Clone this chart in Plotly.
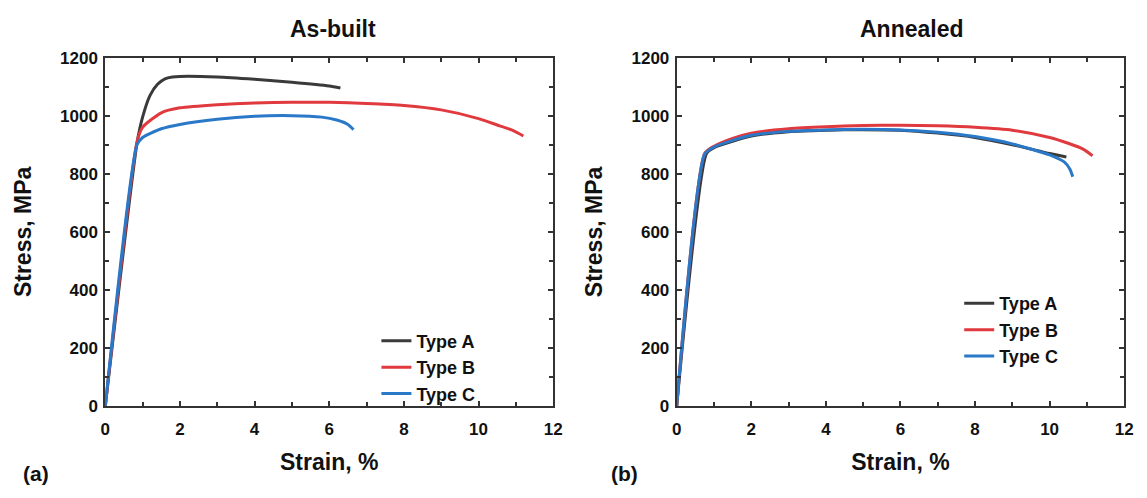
import plotly.graph_objects as go

# ---- data (strain %, stress MPa) ----
series_names = ["Type A", "Type B", "Type C"]
colors = ["#3a3a3a", "#e0393e", "#2a78c8"]

asbuilt_A_x = [0, 0.85, 1.0, 1.2, 1.4, 1.6, 1.8, 2.0, 3.0, 4.0, 5.0, 6.0, 6.3]
asbuilt_A_y = [0, 905, 995, 1070, 1108, 1127, 1133, 1135, 1133, 1125, 1115, 1102, 1095]
asbuilt_B_x = [0, 0.85, 1.0, 1.5, 2.0, 3.0, 4.0, 5.0, 6.0, 7.0, 8.0, 9.0, 10.0, 10.5, 10.9, 11.2]
asbuilt_B_y = [0, 910, 960, 1010, 1027, 1038, 1044, 1046, 1046, 1042, 1035, 1020, 990, 968, 950, 930]
asbuilt_C_x = [0, 0.85, 1.0, 1.5, 2.0, 3.0, 4.0, 5.0, 5.8, 6.2, 6.5, 6.65]
asbuilt_C_y = [0, 900, 925, 955, 970, 988, 998, 1000, 995, 985, 970, 952]

ann_A_x = [0, 0.8, 1.0, 1.5, 2.0, 3.0, 4.0, 5.0, 6.0, 7.0, 8.0, 9.0, 10.0, 10.45]
ann_A_y = [0, 870, 890, 912, 930, 945, 950, 952, 950, 940, 925, 900, 870, 858]
ann_B_x = [0, 0.75, 1.0, 1.5, 2.0, 3.0, 4.0, 5.0, 6.0, 7.0, 8.0, 9.0, 10.0, 10.5, 10.9, 11.15]
ann_B_y = [0, 870, 895, 922, 940, 955, 962, 966, 967, 965, 960, 950, 925, 905, 885, 862]
ann_C_x = [0, 0.75, 1.0, 1.5, 2.0, 3.0, 4.0, 5.0, 6.0, 7.0, 8.0, 9.0, 10.0, 10.4, 10.55, 10.62]
ann_C_y = [0, 868, 892, 915, 933, 946, 951, 953, 951, 943, 928, 903, 865, 840, 815, 790]

x_ticks = [0, 2, 4, 6, 8, 10, 12]
y_ticks = [0, 200, 400, 600, 800, 1000, 1200]

FONT = "Liberation Sans"
INK = "#111"

fig = go.Figure()

asbuilt = [(asbuilt_A_x, asbuilt_A_y), (asbuilt_B_x, asbuilt_B_y), (asbuilt_C_x, asbuilt_C_y)]
annealed = [(ann_A_x, ann_A_y), (ann_B_x, ann_B_y), (ann_C_x, ann_C_y)]

for (xs, ys), name, c in zip(asbuilt, series_names, colors):
    fig.add_trace(go.Scatter(x=xs, y=ys, mode="lines", name=name,
                             line=dict(color=c, width=3, shape="spline", smoothing=0.6),
                             xaxis="x", yaxis="y", legend="legend"))
for (xs, ys), name, c in zip(annealed, series_names, colors):
    fig.add_trace(go.Scatter(x=xs, y=ys, mode="lines", name=name,
                             line=dict(color=c, width=3, shape="spline", smoothing=0.6),
                             xaxis="x2", yaxis="y2", legend="legend2"))

W, H = 1147, 498
def px_x(p): return p / W
def px_y(p): return 1 - p / H

axis_common = dict(
    showline=True, linecolor="#333", linewidth=2, mirror="ticks",
    ticks="inside", ticklen=5, tickwidth=2, tickcolor="#333",
    showgrid=False, zeroline=False,
    tickfont=dict(family=FONT, size=17, color=INK, weight="bold"),
    minor=dict(ticks="inside", ticklen=4, tickwidth=2, tickcolor="#333", showgrid=False),
)

title_font = dict(family=FONT, size=23, color=INK, weight="bold")
legend_font = dict(family=FONT, size=18, color=INK, weight="bold")

xa = dict(range=[0, 12], tickvals=x_ticks, minor_dtick=1, ticklabelstandoff=6,
          title=dict(text="Strain, %", font=title_font, standoff=16), **axis_common)
ya = dict(range=[0, 1200], tickvals=y_ticks, minor_dtick=100, ticklabelstandoff=2,
          title=dict(text="Stress, MPa", font=title_font, standoff=22), **axis_common)

fig.update_layout(
    width=W, height=H,
    margin=dict(l=0, r=0, t=0, b=0),
    paper_bgcolor="white", plot_bgcolor="white",
    showlegend=True,
    xaxis=dict(domain=[px_x(101.5), px_x(555)], anchor="y", **xa),
    yaxis=dict(domain=[px_y(413), px_y(50.5)], anchor="x", **ya),
    xaxis2=dict(domain=[px_x(680), px_x(1133)], anchor="y2", **xa),
    yaxis2=dict(domain=[px_y(413), px_y(50.5)], anchor="x2", **ya),
    legend=dict(x=px_x(376), y=px_y(326), xanchor="left", yanchor="top",
                bgcolor="rgba(0,0,0,0)", tracegroupgap=0, itemwidth=30,
                font=legend_font),
    legend2=dict(x=px_x(966), y=px_y(287), xanchor="left", yanchor="top",
                 bgcolor="rgba(0,0,0,0)", tracegroupgap=0, itemwidth=30,
                 font=legend_font),
    annotations=[
        dict(text="As-built", x=px_x(332), y=px_y(21), xref="paper", yref="paper",
             xanchor="center", yanchor="middle",
             showarrow=False, font=dict(family=FONT, size=23, color=INK, weight="bold")),
        dict(text="Annealed", x=px_x(918), y=px_y(21), xref="paper", yref="paper",
             xanchor="center", yanchor="middle",
             showarrow=False, font=dict(family=FONT, size=23, color=INK, weight="bold")),
        dict(text="(a)", x=px_x(16), y=px_y(483), xref="paper", yref="paper",
             xanchor="left", yanchor="middle",
             showarrow=False, font=dict(family=FONT, size=21, color=INK, weight="bold")),
        dict(text="(b)", x=px_x(611), y=px_y(483), xref="paper", yref="paper",
             xanchor="left", yanchor="middle",
             showarrow=False, font=dict(family=FONT, size=21, color=INK, weight="bold")),
    ],
)

fig.write_html("out.html")
